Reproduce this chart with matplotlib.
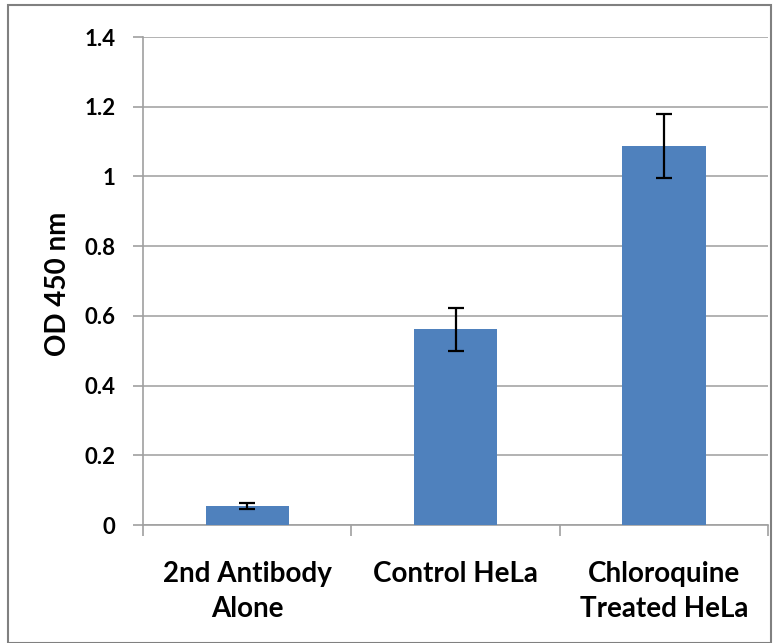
import matplotlib
matplotlib.use("Agg")
import matplotlib.pyplot as plt
from matplotlib.patches import Rectangle
from matplotlib.transforms import blended_transform_factory

categories = ["2nd Antibody\nAlone", "Control HeLa", "Chloroquine\nTreated HeLa"]
values = [0.055, 0.561, 1.088]
errors = [0.009, 0.062, 0.092]
yticks = [0, 0.2, 0.4, 0.6, 0.8, 1.0, 1.2, 1.4]
ytick_labels = ["0", "0.2", "0.4", "0.6", "0.8", "1", "1.2", "1.4"]

plt.rcParams['font.family'] = ['Lato', 'DejaVu Sans']

W, H = 780, 643
fig = plt.figure(figsize=(W/100, H/100), dpi=100)
ax = fig.add_axes([143/W, 1-525/H, (768-143)/W, (525-37)/H])

x = list(range(len(categories)))
ax.bar(x, values, width=0.4, color="#4F81BD", zorder=3,
       yerr=errors, error_kw=dict(ecolor="black", elinewidth=1.6, capsize=6, capthick=1.6, zorder=4))

ax.set_xlim(-0.5, 2.5)
ax.set_ylim(0, 1.4)
ax.set_yticks(yticks)
ax.set_yticklabels(ytick_labels, fontsize=16, fontweight="bold")
ax.set_xticks(x)
ax.set_xticklabels([""] * len(categories))
ax.set_xticks([-0.5, 0.5, 1.5, 2.5], minor=True)
ax.tick_params(axis="x", which="major", length=0)
ax.tick_params(axis="x", which="minor", length=8, color="#A0A0A0", width=1.2, direction="out")
ax.tick_params(axis="y", length=7, color="#A0A0A0", width=1.2, pad=13)

# category labels placed line by line at the reference baselines
trans = blended_transform_factory(ax.transData, fig.transFigure)
baselines_px = [582, 617]
for xi, cat in zip(x, categories):
    for line, b in zip(cat.split("\n"), baselines_px):
        ax.text(xi, 1 - b/H, line, transform=trans, ha="center", va="baseline",
                fontsize=20, fontweight="bold", clip_on=False)

ax.grid(axis="y", color="#A6A6A6", linewidth=1.2, zorder=0)
for s in ["top", "right"]:
    ax.spines[s].set_visible(False)
for s in ["left", "bottom"]:
    ax.spines[s].set_color("#A0A0A0")
    ax.spines[s].set_linewidth(1.2)

fig.text(58/W, 1 - 284/H, "OD 450 nm", rotation=90, ha="center", va="center",
         fontsize=20, fontweight="bold")

fig.patches.append(Rectangle((8/W, 0), (771-8)/W, 1-11/H + 0.01, transform=fig.transFigure,
                             fill=False, edgecolor="#808080", linewidth=1.5))

fig.savefig("out.png", dpi=100)
